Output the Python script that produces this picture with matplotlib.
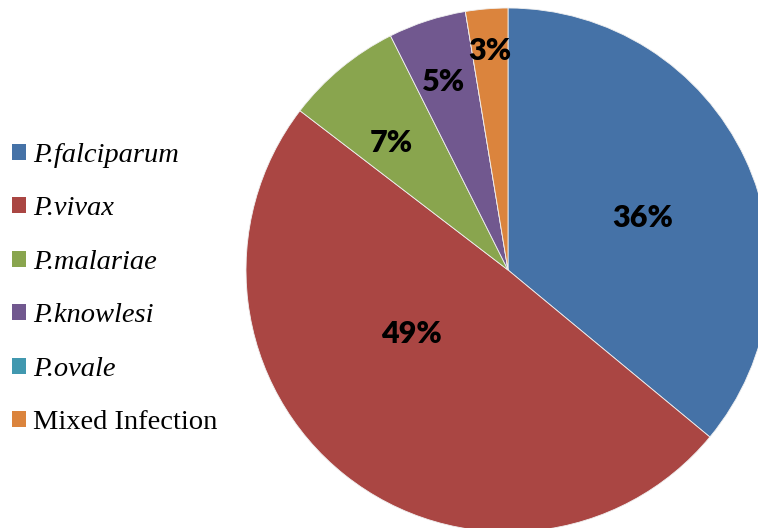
import numpy as np
import matplotlib
matplotlib.use("Agg")
import matplotlib.pyplot as plt

species = ["P.falciparum", "P.vivax", "P.malariae", "P.knowlesi", "P.ovale", "Mixed Infection"]
shares = [36.0, 49.4, 7.2, 4.8, 0.0, 2.6]
pct_labels = ["36%", "49%", "7%", "5%", "", "3%"]
colors = ["#4572A7", "#AA4643", "#89A54E", "#71588F", "#4198AF", "#DB843D"]

# where each percentage sits: radius fraction and angle shift (deg)
lab_dist = [0.55, 0.44, 0.66, 0.76, 0.8, 0.84]
lab_shift = [-4, -18, 3, 1, 0, 0]

W, H = 758, 528
cx, cy, R = 508, 270, 262

fig = plt.figure(figsize=(W / 100, H / 100), dpi=100)
ax = fig.add_axes([0, 0, 1, 1])

wedges, _ = ax.pie(shares, colors=colors, startangle=90, counterclock=False,
                   radius=1.0, wedgeprops=dict(edgecolor="#f0f0f0", linewidth=0.6))

for w, txt, d, s in zip(wedges, pct_labels, lab_dist, lab_shift):
    if not txt:
        continue
    ang = np.deg2rad((w.theta1 + w.theta2) / 2 + s)
    ax.text(d * np.cos(ang), d * np.sin(ang), txt, ha="center", va="center",
            fontsize=22, fontweight="heavy", family=["Lato", "DejaVu Sans"])

ax.set_xlim(-cx / R, (W - cx) / R)
ax.set_ylim(-(H - cy) / R, cy / R)
ax.set_aspect("auto")
ax.axis("off")

leg = ax.legend(wedges, species, loc="upper left", bbox_to_anchor=(0.0, 1 - 131 / H),
                bbox_transform=fig.transFigure, frameon=False,
                prop={"family": "Liberation Serif", "size": 20.5},
                handlelength=0.5, handleheight=0.5, handletextpad=0.25,
                labelspacing=1.0, borderaxespad=0, borderpad=0.42)
for t in leg.get_texts():
    if t.get_text().startswith("P."):
        t.set_fontstyle("italic")
for h in leg.legend_handles:
    h.set_edgecolor("none")

fig.savefig("out.png", dpi=100)
